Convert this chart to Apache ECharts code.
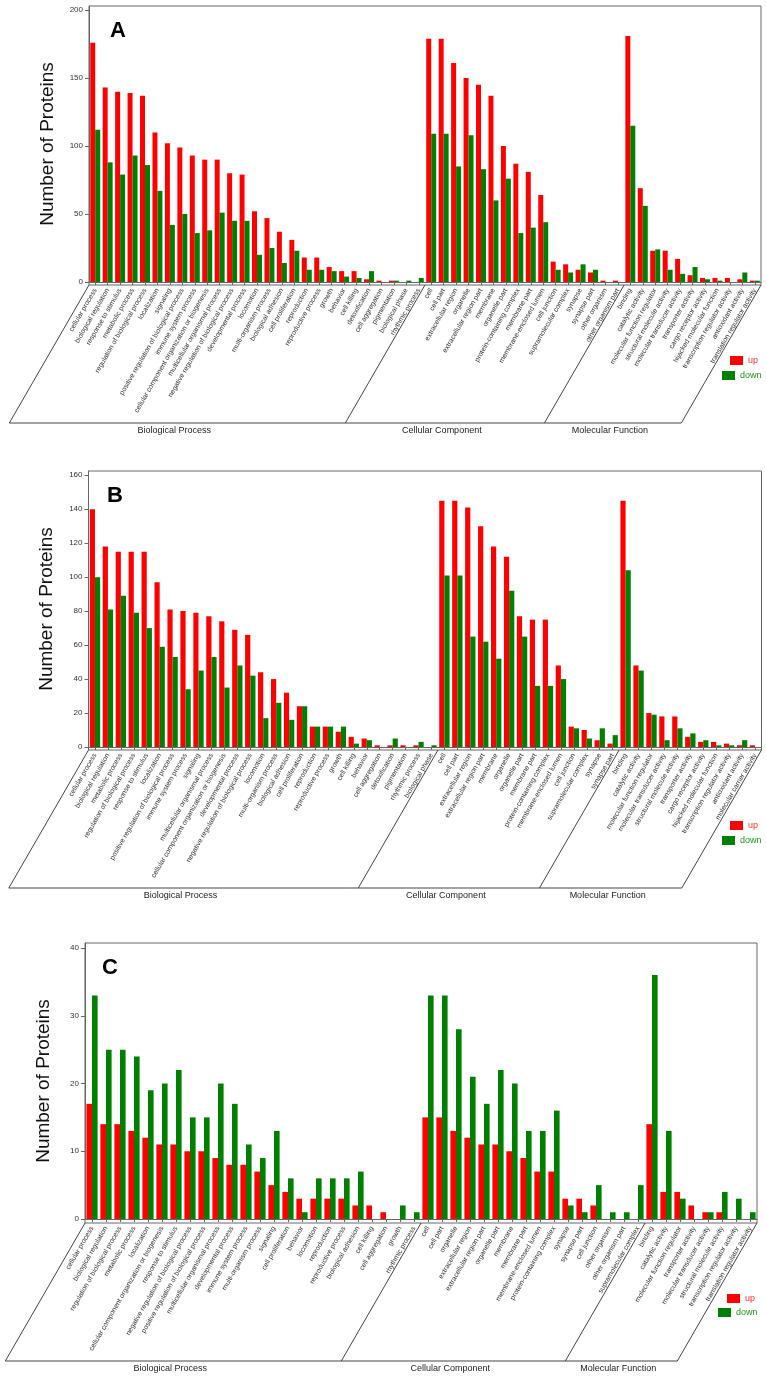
<!DOCTYPE html>
<html><head><meta charset="utf-8">
<script src="https://cdn.jsdelivr.net/npm/echarts@6/dist/echarts.min.js"></script>
<style>html,body{margin:0;padding:0;background:#fff}#c{width:766px;height:1379px}</style>
</head><body><div id="c"></div>
<script>
const groupNames = ['Biological Process', 'Cellular Component', 'Molecular Function'];
const seriesNames = ['up', 'down'];
const yAxisTitle = 'Number of Proteins';

// ---------- Panel A ----------
const catsA_BP = ['cellular process','biological regulation','response to stimulus','metabolic process','regulation of biological process','localization','signaling','positive regulation of biological process','immune system process','cellular component organization or biogenesis','multicellular organismal process','negative regulation of biological process','developmental process','locomotion','multi-organism process','biological adhesion','cell proliferation','reproduction','reproductive process','growth','behavior','cell killing','detoxification','cell aggregation','pigmentation','biological phase','rhythmic process'];
const upA_BP   = [176,143,140,139,137,110,102,99,93,90,90,80,79,52,47,37,31,18,18,11,8,8,2,1,1,0,0];
const downA_BP = [112,88,79,93,86,67,42,50,36,38,51,45,45,20,25,14,23,9,9,8,4,3,8,0,1,1,3];
const catsA_CC = ['cell','cell part','extracellular region','organelle','extracellular region part','membrane','organelle part','protein-containing complex','membrane part','membrane-enclosed lumen','cell junction','supramolecular complex','synapse','synapse part','other organism','other organism part'];
const upA_CC   = [179,179,161,150,145,137,100,87,81,64,15,13,9,7,1,1];
const downA_CC = [109,109,85,108,83,60,76,36,40,44,9,7,13,9,0,0];
const catsA_MF = ['binding','catalytic activity','molecular function regulator','structural molecule activity','molecular transducer activity','transporter activity','cargo receptor activity','hijacked molecular function','transcription regulator activity','antioxidant activity','translation regulator activity'];
const upA_MF   = [181,69,23,23,17,5,3,3,3,2,1];
const downA_MF = [115,56,24,9,6,11,2,1,0,7,1];

// ---------- Panel B ----------
const catsB_BP = ['cellular process','biological regulation','metabolic process','regulation of biological process','response to stimulus','localization','positive regulation of biological process','immune system process','signaling','multicellular organismal process','cellular component organization or biogenesis','developmental process','negative regulation of biological process','locomotion','multi-organism process','biological adhesion','cell proliferation','reproduction','reproductive process','growth','cell killing','behavior','cell aggregation','detoxification','pigmentation','rhythmic process','biological phase'];
const upB_BP   = [140,118,115,115,115,97,81,80,79,77,74,69,66,44,40,32,24,12,12,9,6,5,1,1,1,1,0];
const downB_BP = [100,81,89,79,70,59,53,34,45,53,35,48,42,17,26,16,24,12,12,12,2,4,0,5,0,3,1];
const catsB_CC = ['cell','cell part','extracellular region','extracellular region part','membrane','organelle','organelle part','membrane part','protein-containing complex','membrane-enclosed lumen','cell junction','supramolecular complex','synapse','synapse part'];
const upB_CC   = [145,145,141,130,118,112,77,75,75,48,12,10,4,2];
const downB_CC = [101,101,65,62,52,92,65,36,36,40,11,5,11,7];
const catsB_MF = ['binding','catalytic activity','molecular function regulator','molecular transducer activity','structural molecule activity','transporter activity','cargo receptor activity','hijacked molecular function','transcription regulator activity','antioxidant activity','molecular carrier activity'];
const upB_MF   = [145,48,20,18,18,6,3,3,2,1,1];
const downB_MF = [104,45,19,4,11,8,4,1,1,4,0];

// ---------- Panel C ----------
const catsC_BP = ['cellular process','biological regulation','regulation of biological process','metabolic process','localization','cellular component organization or biogenesis','response to stimulus','negative regulation of biological process','positive regulation of biological process','multicellular organismal process','developmental process','immune system process','multi-organism process','signaling','cell proliferation','behavior','locomotion','reproduction','reproductive process','biological adhesion','cell killing','cell aggregation','growth','rhythmic process'];
const upC_BP   = [17,14,14,13,12,11,11,10,10,9,8,8,7,5,4,3,3,3,3,2,2,1,0,0];
const downC_BP = [33,25,25,24,19,20,22,15,15,20,17,11,9,13,6,1,6,6,6,7,0,0,2,1];
const catsC_CC = ['cell','cell part','organelle','extracellular region','extracellular region part','organelle part','membrane','membrane part','membrane-enclosed lumen','protein-containing complex','synapse','synapse part','cell junction','other organism','other organism part','supramolecular complex'];
const upC_CC   = [15,15,13,12,11,11,10,9,7,7,3,3,2,0,0,0];
const downC_CC = [33,33,28,21,17,22,20,13,13,16,2,1,5,1,1,5];
const catsC_MF = ['binding','catalytic activity','molecular function regulator','transporter activity','molecular transducer activity','structural molecule activity','transcription regulator activity','translation regulator activity'];
const upC_MF   = [14,4,4,2,1,1,0,0];
const downC_MF = [36,13,3,0,1,4,3,1];

// ---------- layout (positions / styles only) ----------
const FONT = '"Liberation Sans", Arial, Helvetica, sans-serif';
const RED = '#ff0000', GREEN = '#008000';
const layouts = [
  {left:89, right:761, top:6, zero:282, max:203, interval:50, off:3, letter:[118,31], legUp:[730,356], legDown:[722,371]},
  {left:88.5, right:761.5, top:471, zero:747, max:162.5, interval:20, off:3, letter:[115,496], legUp:[730,821], legDown:[722,836]},
  {left:85, right:757, top:943, zero:1219, max:40.74, interval:10, off:4, letter:[110,968], legUp:[727,1294], legDown:[718,1308]}
];
const panels = [
  {letter:'A', groups:[catsA_BP, catsA_CC, catsA_MF], up:[...upA_BP, ...upA_CC, ...upA_MF], down:[...downA_BP, ...downA_CC, ...downA_MF]},
  {letter:'B', groups:[catsB_BP, catsB_CC, catsB_MF], up:[...upB_BP, ...upB_CC, ...upB_MF], down:[...downB_BP, ...downB_CC, ...downB_MF]},
  {letter:'C', groups:[catsC_BP, catsC_CC, catsC_MF], up:[...upC_BP, ...upC_CC, ...upC_MF], down:[...downC_BP, ...downC_CC, ...downC_MF]}
];
panels.forEach((p,i)=>{ p.cats = [].concat(...p.groups); p.L = layouts[i]; });

const chart = echarts.init(document.getElementById('c'), null, {renderer:'canvas'});
const option = {
  animation:false,
  backgroundColor:'#fff',
  textStyle:{fontFamily:FONT},
  grid: panels.map(p=>({left:p.L.left, top:p.L.top, width:p.L.right-p.L.left, height:p.L.zero-p.L.top, containLabel:false, outerBoundsMode:'none'})),
  xAxis: panels.map((p,i)=>({
    type:'category', gridIndex:i, data:p.cats, offset:p.L.off,
    axisLine:{show:true, lineStyle:{color:'#666', width:1}},
    axisTick:{show:true, alignWithLabel:true, length:3, lineStyle:{color:'#666'}},
    axisLabel:{interval:0, rotate:60, fontSize:7, color:'#333', margin:4, hideOverlap:false, fontFamily:FONT},
    splitLine:{show:false}
  })),
  yAxis: panels.map((p,i)=>({
    type:'value', gridIndex:i, min:0, max:p.L.max, interval:p.L.interval,
    name:yAxisTitle, nameLocation:'middle', nameGap:32,
    nameTextStyle:{fontSize:19, color:'#111', fontFamily:FONT},
    axisLine:{show:true, lineStyle:{color:'#666'}},
    axisTick:{show:true, length:4, lineStyle:{color:'#666'}},
    axisLabel:{fontSize:8, color:'#333', margin:6, showMaxLabel:false, fontFamily:FONT,
      formatter:v => (Math.abs(v % p.L.interval) < 1e-9 ? String(v) : '')},
    splitLine:{show:false}
  })),
  legend: panels.flatMap(p=>[
    {left:p.L.legUp[0], top:p.L.legUp[1], padding:0, itemWidth:13, itemHeight:9, selectedMode:false,
     textStyle:{fontSize:9, fontFamily:FONT}, data:[{name:seriesNames[0], icon:'rect', textStyle:{color:'#ff3030'}}]},
    {left:p.L.legDown[0], top:p.L.legDown[1], padding:0, itemWidth:13, itemHeight:9, selectedMode:false,
     textStyle:{fontSize:9, fontFamily:FONT}, data:[{name:seriesNames[1], icon:'rect', textStyle:{color:'#1a9a1a'}}]}
  ]),
  series: panels.flatMap((p,i)=>[
    {type:'bar', name:seriesNames[0], xAxisIndex:i, yAxisIndex:i, data:p.up, itemStyle:{color:RED}, barGap:'0%', barCategoryGap:'20%'},
    {type:'bar', name:seriesNames[1], xAxisIndex:i, yAxisIndex:i, data:p.down, itemStyle:{color:GREEN}, barGap:'0%', barCategoryGap:'20%'}
  ])
};
chart.setOption(option);

// decorations derived from the axes
const K = 1/Math.tan(60*Math.PI/180);
const H = 138;
const g = [];
panels.forEach((p,i)=>{
  const L = p.L;
  const cx = k => chart.convertToPixel({xAxisIndex:i}, k);
  const n = p.cats.length;
  const band = cx(1)-cx(0);
  const x0 = cx(0)-band/2, x1 = cx(n-1)+band/2;
  const yTop = chart.convertToPixel({yAxisIndex:i}, L.max);
  const y0 = chart.convertToPixel({yAxisIndex:i}, 0) + L.off;
  const yB = y0 + H;
  g.push({type:'rect', silent:true, shape:{x:x0, y:yTop, width:x1-x0, height:y0-yTop}, style:{fill:null, stroke:'#666', lineWidth:1}});
  const bounds = [x0];
  let acc = 0;
  p.groups.forEach(grp=>{ acc += grp.length; bounds.push(acc===n ? x1 : cx(acc-1)+band/2); });
  bounds.forEach(bx=>g.push({type:'line', silent:true, shape:{x1:bx, y1:y0, x2:bx-H*K, y2:yB}, style:{stroke:'#444', lineWidth:1}}));
  g.push({type:'line', silent:true, shape:{x1:x0-H*K, y1:yB, x2:x1-H*K, y2:yB}, style:{stroke:'#444', lineWidth:1}});
  for (let gi=0; gi<3; gi++){
    const a = bounds[gi]-H*K, b = bounds[gi+1]-H*K;
    g.push({type:'text', silent:true, x:(a+b)/2-3, y:yB+8, style:{text:groupNames[gi], font:'9px '+FONT, fill:'#222', align:'center', verticalAlign:'middle'}});
  }
  g.push({type:'text', silent:true, x:L.letter[0], y:L.letter[1], style:{text:p.letter, font:'bold 22px '+FONT, fill:'#000', align:'center', verticalAlign:'middle'}});
});
chart.setOption({graphic:g});
</script>
</body></html>
